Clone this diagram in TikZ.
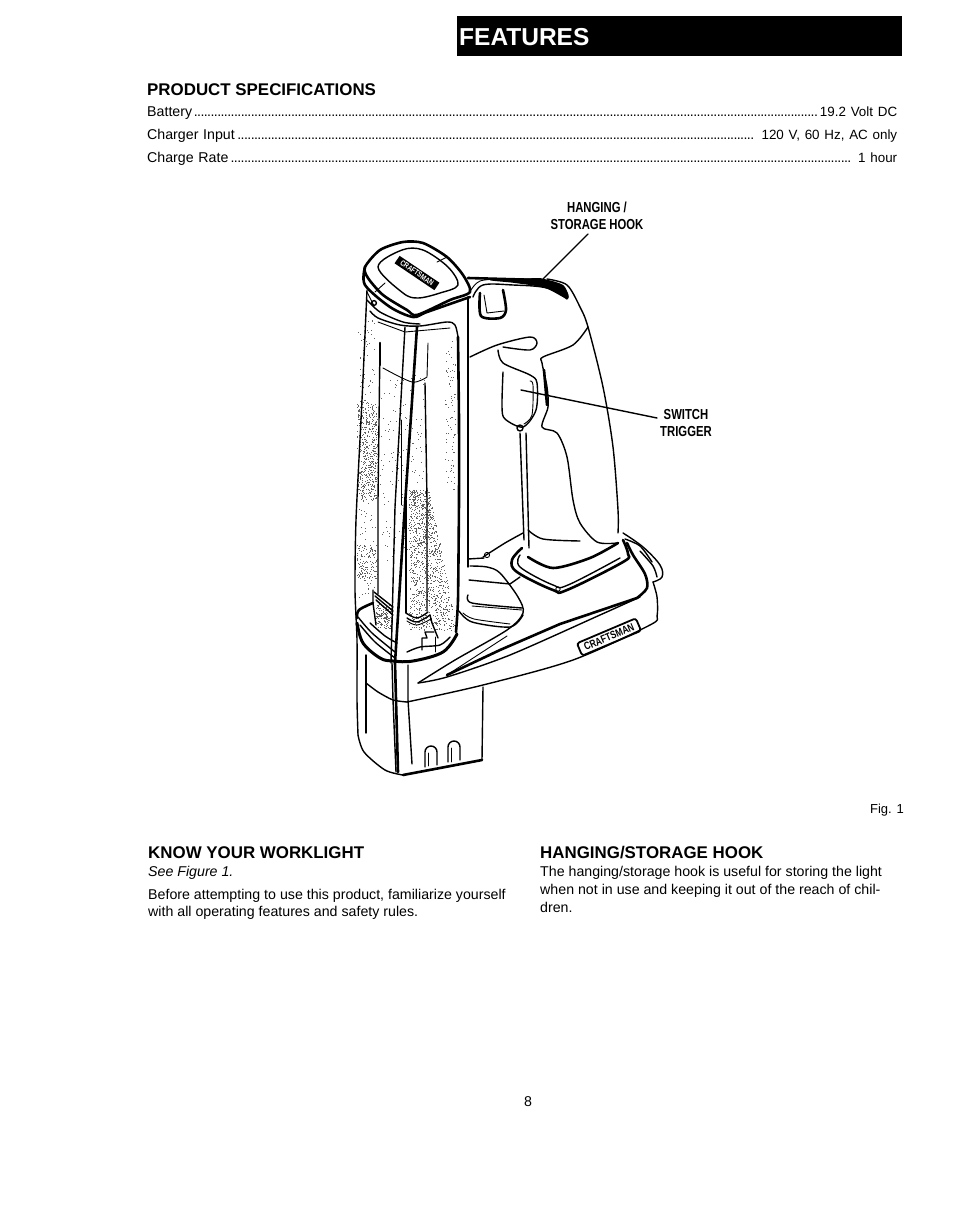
\documentclass[tikz,border=0pt]{standalone}
\usepackage{fontspec}
\setmainfont{Liberation Sans}
\newfontfamily\narrowbold[FakeStretch=0.78]{Liberation Sans Bold}
\newcommand{\dotrow}{\leaders\hbox to 3.35pt{\hss.\hss}\hfill}
\newcommand{\specval}[1]{{\fontsize{13.4}{16}\selectfont #1}}
\tikzset{
  page/.style={x=1pt,y=-1pt},
  ink/.style={line width=1.4pt,line join=round,line cap=round,black},
  thin ink/.style={line width=0.9pt,line join=round,line cap=round,black},
  heavy/.style={line width=2.6pt,line join=round,line cap=round,black},
  body/.style={anchor=base west,inner sep=0pt,font=\fontsize{14.2}{16}\selectfont},
  head/.style={anchor=base west,inner sep=0pt,font=\fontsize{16.9}{19}\selectfont\bfseries},
  call/.style={align=center,inner sep=0pt,font=\fontsize{14.5}{16.5}\narrowbold},
  speck/.style={fill=black!62,draw=none}
}
\begin{document}
\begin{tikzpicture}[page]
\useasboundingbox (0,0) rectangle (954,1225);
\fill[white] (0,0) rectangle (954,1225);
% title
\node[fill=black,minimum width=444.5pt,minimum height=40pt,inner sep=0pt,anchor=north west] (bar) at (457,16) {};
\node[anchor=base west,inner sep=0pt,text=white,font=\fontsize{24.5}{28}\selectfont\bfseries] (title) at (459,46) {FEATURES};
% specs
\node[head] (spec) at (147,96) {PRODUCT SPECIFICATIONS};
\node[body,text width=750pt] (r1) at (147,117) {Battery\dotrow\specval{19.2 Volt DC}};
\node[body,text width=750pt] (r2) at (147,140) {Charger Input\kern2pt\dotrow\specval{ 120 V, 60 Hz, AC only}};
\node[body,text width=750pt] (r3) at (147,163) {Charge Rate\kern2pt\dotrow\specval{ 1 hour}};
% stipple
\pgfmathsetseed{4711}
\foreach \i in {1,...,420}{\pgfmathsetmacro{\px}{357+rnd*20}\pgfmathsetmacro{\py}{400+rnd*100}\fill[speck] (\px,\py) rectangle ++(1,1);}
\foreach \i in {1,...,180}{\pgfmathsetmacro{\px}{358+rnd*17}\pgfmathsetmacro{\py}{320+rnd*280}\fill[speck] (\px,\py) rectangle ++(1,1);}
\foreach \i in {1,...,120}{\pgfmathsetmacro{\px}{357+rnd*20}\pgfmathsetmacro{\py}{545+rnd*35}\fill[speck] (\px,\py) rectangle ++(1,1);}
\foreach \i in {1,...,1050}{\pgfmathsetmacro{\py}{490+rnd*140}\pgfmathsetmacro{\px}{409+rnd*(20+(\py-490)*0.2)}\fill[speck] (\px,\py) rectangle ++(1,1);}
\foreach \i in {1,...,160}{\pgfmathsetmacro{\px}{380+rnd*45}\pgfmathsetmacro{\py}{375+rnd*190}\fill[speck] (\px,\py) rectangle ++(0.9,0.9);}
\foreach \i in {1,...,80}{\pgfmathsetmacro{\px}{445+rnd*10}\pgfmathsetmacro{\py}{340+rnd*150}\fill[speck] (\px,\py) rectangle ++(0.9,0.9);}
\foreach \i in {1,...,170}{\pgfmathsetmacro{\px}{376+rnd*16}\pgfmathsetmacro{\py}{604+rnd*24}\fill[speck] (\px,\py) rectangle ++(1,1);}
% lens outer
\draw[ink] plot[smooth,tension=.4] coordinates {(367,290)(362,400)(356,520)(355,590)(357,640)(357,700)(358,735)};
\draw[ink] plot[smooth,tension=.5] coordinates {(358,735)(364,752)(385,770)(403,775)};
\draw[heavy] plot[smooth,tension=.5] coordinates {(403,775)(440,768)(482,760)};
\draw[ink] (482,760) -- (483,687);
\draw[ink] plot[smooth,tension=.5] coordinates {(370,311)(378,318)(400,325)(420,326)(447,322)(455,325)(458,337)};
\draw[ink] plot[smooth,tension=.5] coordinates {(367,300)(380,312)(403,322)(420,324)};
\draw[thin ink] (378,322)--(405,332)--(450,328);
\draw[heavy] plot[smooth,tension=.3] coordinates {(458,337)(459,420)(459,500)(458,600)(456,632)};
\draw[line width=3pt,line cap=round] plot[smooth,tension=.6] coordinates {(457,634)(443,652)(413,661)(393,661)(380,658)(363,643)(357,623)};
\draw[ink] (468,297)--(468,567);
% cap
\draw[heavy,fill=white] plot[smooth cycle,tension=.45] coordinates {(365,267)(380,250)(403,242)(423,243)(447,257)(463,275)(470,292)(450,300)(417,315)(407,310)(383,295)(368,278)};
\draw[heavy] plot[smooth,tension=.5] coordinates {(365,267)(365,285)(390,307)(413,317)(427,312)(470,297)};
\draw[ink] plot[smooth cycle,tension=.55] coordinates {(378,267)(402,250)(423,250)(448,267)(458,285)(440,293)(418,298)(403,293)};
\draw[thin ink] (385,283)--(375,292) (447,257)--(437,262);
\draw[thin ink] (367,292)--(374,306);
\draw[ink] (374,303) circle (2.4);
\node[rotate=-34,fill=black,text=white,minimum width=48pt,minimum height=9pt,inner sep=0pt,font=\fontsize{7.8}{8}\narrowbold] (lamp) at (417,273) {CRAFTSMAN};
% centre verticals
\draw[line width=2.6pt,line cap=round] (417,327)--(404,520)--(395,663)--(398,772);
\draw[ink] (405,327)--(395,507)--(391,663);
\draw[ink] (392,663)--(393,700)--(396,772);
\draw[ink] (408,665)--(408,700)--(412,764);
\draw[ink] (380,343)--(378,500)--(378,594);
\draw[heavy] (380,343)--(380,365);
\draw[ink] (425,383)--(427,500)--(427,611);
\draw[thin ink] (428,343)--(427,377) plot[smooth,tension=.5] coordinates {(383,368)(412,382)(427,377)};
\draw[thin ink] (401,420)--(401,505);
\draw[ink] (406,500)--(406,613);
% socket
\draw[heavy] plot[smooth,tension=.6] coordinates {(357,618)(359,610)(373,603)};
\draw[ink] (373,590)--(373,603)--(376,625);
\draw[ink] (374,592)--(393,607) (375,596)--(393,611) (376,600)--(393,615);
\draw[ink] plot[smooth,tension=.5] coordinates {(358,617)(372,633)(395,652)};
\draw[ink] plot[smooth,tension=.5] coordinates {(360,625)(375,642)(395,658)};
\draw[ink] plot[smooth,tension=.5] coordinates {(370,623)(385,636)(397,643)};
\draw[ink] plot[smooth,tension=.6] coordinates {(406,613)(417,618)(428,612)};
\draw[ink] plot[smooth,tension=.6] coordinates {(407,618)(417,622)(430,615)};
\draw[thin ink] plot[smooth,tension=.6] coordinates {(407,621)(417,625)(431,619)};
\draw[ink] (430,615)--(432,623)--(438,638);
\draw[ink] (422,650)--(422,638)--(427,638)--(425,632)--(434,632);
\draw[ink] plot[smooth,tension=.5] coordinates {(407,652)(420,647)(440,645)(450,637)};
\draw[thin ink] (435,637)--(435,652);
% battery
\draw[ink] (366,655)--(366,733);
\draw[ink] plot[smooth,tension=.4] coordinates {(366,683)(378,692)(393,700)(407,702)};
\draw[ink] (425,767)--(425,752) arc[start angle=180,end angle=360,radius=6]--(437,765);
\draw[ink] (448,762)--(448,747) arc[start angle=180,end angle=360,radius=6]--(460,760);
\draw[thin ink] (428,766)--(428,753) (451,762)--(451,748);
% base
\draw[ink] plot[smooth,tension=.5] coordinates {(407,702)(483,685)(573,660)(650,625)(657,616)(657,597)(653,582)};
\draw[ink] plot[smooth,tension=.6] coordinates {(653,582)(662,577)(660,565)(643,547)(623,533)};
\draw[ink] plot[smooth,tension=.5] coordinates {(640,551)(653,566)(657,577)};
\draw[ink] plot[smooth,tension=.5] coordinates {(625,539)(640,546)(652,562)};
\draw[ink] plot[smooth,tension=.4] coordinates {(483,557)(505,543)(523,533)};
\draw[thin ink] (487,555) circle (2.6);
\draw[ink] (468,559)--(484,558);
\draw[ink] plot[smooth,tension=.5] coordinates {(470,566)(487,567)(500,573)(518,597)(523,613)(507,630)(455,660)(418,683)};
\draw[ink] plot[smooth,tension=.5] coordinates {(418,683)(447,677)(510,655)(600,615)(640,597)};
\draw[heavy] (447,675)--(500,650)--(560,624)--(637,598);
\draw[thin ink] (447,675)--(507,636);
\draw[heavy] plot[smooth,tension=.5] coordinates {(637,598)(647,588)(645,574)(633,555)(627,543)};
\draw[ink] (469,580)--(510,584)--(520,577);
\draw[ink] plot[smooth,tension=.5] coordinates {(468,595)(472,603)(522,608)};
\draw[thin ink] (472,606)--(522,610);
\draw[ink] plot[smooth,tension=.5] coordinates {(459,611)(472,622)(510,627)(523,615)};
\draw[thin ink] plot[smooth,tension=.5] coordinates {(463,613)(474,619)(510,624)};
% collar
\draw[heavy] plot[smooth,tension=.6] coordinates {(522,548)(512,560)(517,572)(553,590)(567,590)(623,562)(628,554)(623,540)};
\draw[ink] plot[smooth,tension=.6] coordinates {(520,555)(520,567)(553,585)(568,585)(620,558)};
\draw[heavy] plot[smooth,tension=.5] coordinates {(528,557)(553,568)(590,558)(618,543)};
\draw[ink] plot[smooth,tension=.5] coordinates {(528,530)(543,539)(580,541)};
\draw[thin ink] (558,589) circle (2.2);
% handle
\draw[ink] plot[smooth,tension=.5] coordinates {(547,279)(567,285)(580,307)(588,327)(603,387)(613,447)(618,510)(618,533)};
\draw[heavy] (468,278)--(540,280);
\fill plot[smooth,tension=.5] coordinates {(540,278)(563,285)(568,299)(545,288)(515,283)(490,280)(540,278)};
\draw[ink] plot[smooth,tension=.6] coordinates {(473,297)(483,285)(513,285)(547,288)(567,299)};
\draw[thin ink] plot[smooth,tension=.6] coordinates {(471,290)(480,281)(500,279)};
\draw[heavy] plot[smooth,tension=.5] coordinates {(480,293)(481,316)(500,318)(506,310)(503,290)};
\draw[thin ink] (484,295)--(487,313)--(504,311);
\draw[ink] plot[smooth,tension=.5] coordinates {(588,327)(573,345)(543,357)(542,363)(547,387)(548,407)(542,427)(557,433)(567,457)(573,500)(580,523)(597,542)(617,543)};
\draw[heavy] (544,370)--(547,405);
\draw[ink] plot[smooth,tension=.5] coordinates {(470,357)(497,345)(530,337)(537,343)(530,350)(503,347)};
\draw[ink] plot[smooth,tension=.5] coordinates {(498,350)(503,363)(530,375)(537,383)(536,410)(523,427)(505,419)(502,407)(503,372)};
\draw[thin ink] plot[smooth,tension=.5] coordinates {(530,381)(533,385)(532,415)(524,424)};
\draw[ink] (520,428) circle (3);
\draw[ink] (520,433)--(524,540) (526,433)--(529,548);
% base badge
\node[rotate=23,draw=black,line width=1.8pt,rounded corners=2.5pt,minimum width=64pt,minimum height=13.5pt,inner sep=0pt,font=\fontsize{10.8}{11}\narrowbold] (badge) at (609,637) {CRAFTSMAN};
% call-outs
\node[call] (hook) at (597,216) {HANGING /\\STORAGE HOOK};
\coordinate (hooktip) at (543,279);
\coordinate (hookstart) at (588,234);
\draw[ink] (hookstart)--(hooktip);
\node[call] (switch) at (686,423) {SWITCH\\TRIGGER};
\coordinate (swtip) at (521,390);
\coordinate (swend) at (657,418);
\draw[ink] (swtip)--(swend);
% text
\node[anchor=base east,inner sep=0pt,font=\fontsize{13}{15}\selectfont] (fig) at (904,813) {Fig. 1};
\node[head] (know) at (148,858) {KNOW YOUR WORKLIGHT};
\node[head] (hang) at (540,858) {HANGING/STORAGE HOOK};
\node[body,font=\fontsize{14.2}{16}\selectfont\itshape] (see) at (148,876) {See Figure 1.};
\node[body] (b1) at (148,899) {Before attempting to use this product, familiarize yourself};
\node[body] (b2) at (148,916) {with all operating features and safety rules.};
\node[body] (h1) at (540,876) {The hanging/storage hook is useful for storing the light};
\node[body] (h2) at (540,894) {when not in use and keeping it out of the reach of chil-};
\node[body] (h3) at (540,912) {dren.};
\node[body] (pg) at (524,1106) {8};
\end{tikzpicture}
\end{document}
